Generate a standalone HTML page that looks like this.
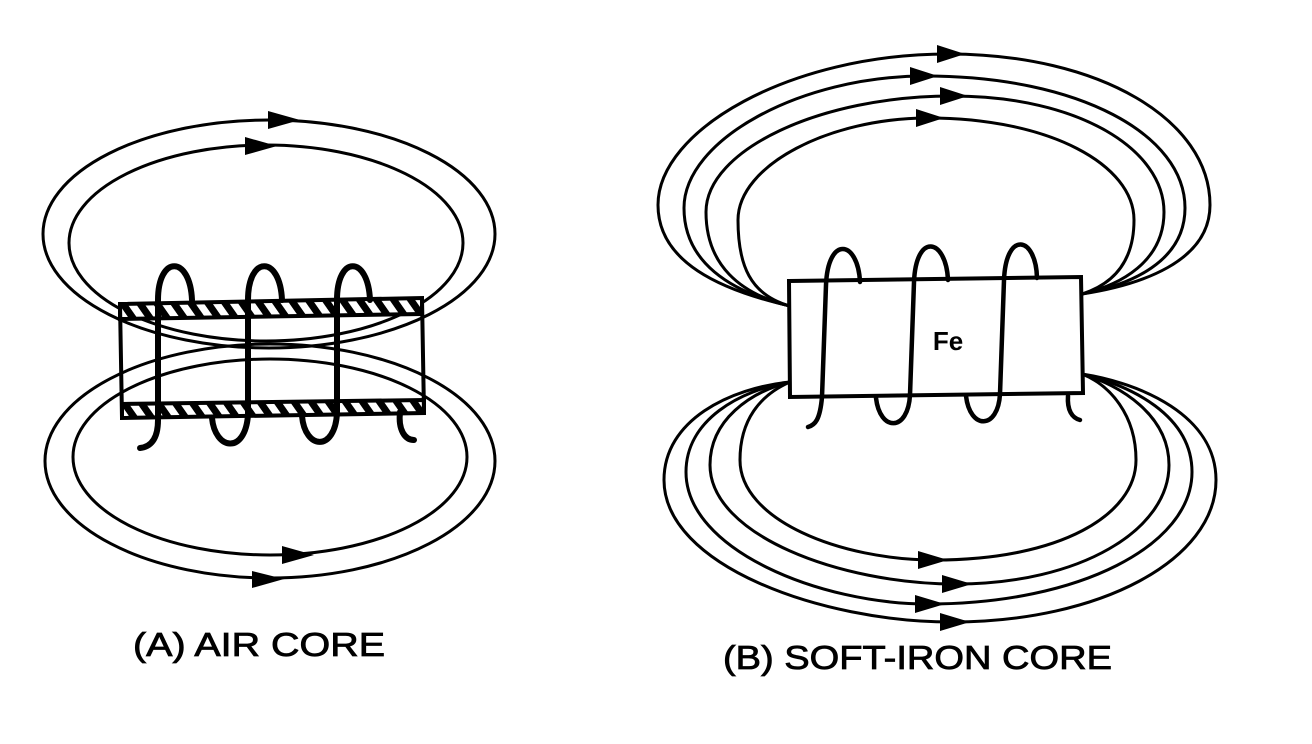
<!DOCTYPE html>
<html><head><meta charset="utf-8"><style>html,body{margin:0;padding:0;background:#fff;}svg{display:block}</style></head>
<body>
<svg width="1312" height="744" viewBox="0 0 1312 744" xmlns="http://www.w3.org/2000/svg">
<defs>
<pattern id="h" width="14" height="14" patternUnits="userSpaceOnUse" patternTransform="rotate(-35)">
<rect width="14" height="14" fill="#000"/><rect width="7" height="14" fill="#fff"/>
</pattern>
</defs>
<g fill="none" stroke="#000" stroke-width="3">
<ellipse cx="269" cy="234" rx="226" ry="114"/>
<ellipse cx="266" cy="243" rx="197" ry="98"/>
<ellipse cx="270" cy="461" rx="225" ry="117"/>
<ellipse cx="270" cy="457" rx="197" ry="98"/>
</g>
<g fill="#000">
<polygon points="268,111 300,120 268,129"/>
<polygon points="245,137 277,146 245,155"/>
<polygon points="282,546 314,555 282,564"/>
<polygon points="252,571 284,579 252,588"/>
</g>
<g stroke="#000" stroke-width="4">
<path d="M120,304 L422,298 L422,314 L120,319 Z" fill="url(#h)"/>
<path d="M122,404 L424,400 L424,413 L122,418 Z" fill="url(#h)"/>
<path d="M120,304 L122,418 M422,298 L424,413" fill="none"/>
</g>
<g fill="none" stroke="#000" stroke-width="6" stroke-linecap="round">
<path d="M158,418 L158,300 C158,255 190,255 192,300"/>
<path d="M248,415 L248,300 C248,255 280,255 282,300"/>
<path d="M337,413 L337,300 C337,255 368,255 370,300"/>
<path d="M158,420 C158,440 150,447 140,448"/>
<path d="M212,418 C215,450 245,455 248,415"/>
<path d="M302,416 C305,450 335,452 337,413"/>
<path d="M400,412 C398,430 405,440 414,440"/>
</g>
<g fill="none" stroke="#000" stroke-width="3">
<path d="M790,306 C720,290 658,262 658,205 C658,130 790,54 948,54 C1100,54 1210,120 1210,205 C1210,262 1140,285 1082,294"/>
<path d="M790,306 C730,292 684,262 684,208 C684,140 800,76 925,76 C1080,76 1185,135 1185,208 C1185,262 1130,285 1082,294"/>
<path d="M790,306 C740,294 706,265 706,212 C706,150 820,96 952,96 C1080,96 1164,150 1164,212 C1164,262 1120,285 1082,294"/>
<path d="M790,306 C750,295 738,265 738,220 C738,165 830,118 928,118 C1050,118 1134,165 1134,220 C1134,265 1110,285 1082,294"/>
<path d="M790,382 C760,395 740,420 740,460 C740,520 840,560 935,560 C1060,560 1136,515 1136,460 C1136,415 1110,385 1082,374"/>
<path d="M790,382 C750,392 710,420 710,465 C710,535 840,584 956,584 C1080,584 1169,530 1169,465 C1169,415 1120,385 1082,374"/>
<path d="M790,382 C740,390 686,420 686,472 C686,550 820,604 928,604 C1080,604 1192,545 1192,472 C1192,415 1130,385 1082,374"/>
<path d="M790,382 C730,388 664,420 664,480 C664,565 820,622 952,622 C1100,622 1216,560 1216,480 C1216,415 1140,383 1082,374"/>
</g>
<g fill="#000">
<polygon points="937,45 965,54 937,63"/>
<polygon points="910,67 938,76 910,85"/>
<polygon points="940,87 968,96 940,105"/>
<polygon points="916,109 944,118 916,127"/>
<polygon points="918,551 948,560 918,569"/>
<polygon points="942,575 972,584 942,593"/>
<polygon points="915,595 945,604 915,613"/>
<polygon points="940,613 970,622 940,631"/>
</g>
<path d="M789,281 L1081,277 L1083,393 L790,397 Z" fill="#fff" stroke="#000" stroke-width="4"/>
<text x="948" y="350" font-family="Liberation Sans, sans-serif" font-size="26" font-weight="bold" text-anchor="middle">Fe</text>
<g fill="none" stroke="#000" stroke-width="4.5" stroke-linecap="round">
<path d="M822,397 L826,285 C828,235 858,240 860,282"/>
<path d="M910,395 L914,282 C916,232 946,238 948,280"/>
<path d="M1000,394 L1004,280 C1006,230 1036,236 1037,278"/>
<path d="M822,397 C820,420 815,425 808,427"/>
<path d="M876,398 C880,432 908,432 910,395"/>
<path d="M966,396 C970,430 998,430 1000,394"/>
<path d="M1068,396 C1067,410 1072,418 1080,420"/>
</g>
<g font-family="Liberation Sans, sans-serif" font-size="33" fill="#000" stroke="#000" stroke-width="0.8">
<text x="133" y="656" textLength="252" lengthAdjust="spacingAndGlyphs">(A) AIR CORE</text>
<text x="723" y="669" textLength="389" lengthAdjust="spacingAndGlyphs">(B) SOFT-IRON CORE</text>
</g>
</svg>
</body></html>
